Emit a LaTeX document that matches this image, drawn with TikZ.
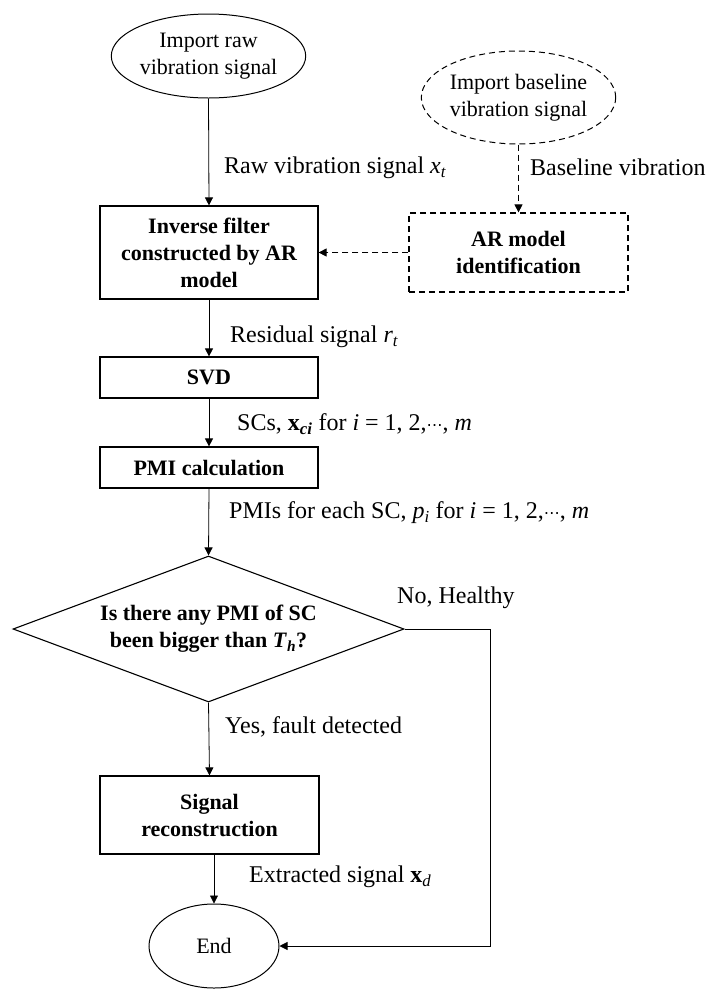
\documentclass[tikz,border=0pt]{standalone}
\usepackage{fontspec}
\setmainfont{Liberation Serif}
\newfontfamily\dotsfont{DejaVu Sans}
\newcommand{\mydots}{{\dotsfont\fontsize{16}{20}\selectfont ⋯}}
\usetikzlibrary{shapes.geometric,arrows.meta}
\begin{document}
\begin{tikzpicture}[x=1pt,y=-1pt,
  every node/.style={inner sep=0pt},
  nodefont/.style={font=\fontsize{22}{27}\selectfont, align=center},
  boxnode/.style={draw, line width=1.2pt, rectangle, nodefont, font=\fontsize{22}{27}\selectfont\bfseries},
  ovalnode/.style={draw, line width=1pt, ellipse, nodefont},
  dashpat/.style={dash pattern=on 6pt off 4pt},
  lbl/.style={anchor=west, font=\fontsize{24}{28}\selectfont},
  conn/.style={line width=0.8pt, -{Triangle[length=8pt,width=8pt]}}
]
\useasboundingbox (0,0) rectangle (707,989);

\node[ovalnode, minimum width=192pt, minimum height=84pt] (start) at (208.5,56) {Import raw\\vibration signal};
\node[ovalnode, dashpat, minimum width=191pt, minimum height=93pt] (base) at (518.5,97.5) {Import baseline\\vibration signal};

\node[boxnode, minimum width=218pt, minimum height=93pt] (inv) at (209,252.5) {Inverse filter\\constructed by AR\\model};
\node[boxnode, dashpat, minimum width=219pt, minimum height=79pt] (ar) at (518.5,252.5) {AR model\\identification};

\node[boxnode, minimum width=218pt, minimum height=41pt] (svd) at (209,377.5) {SVD};
\node[boxnode, minimum width=218pt, minimum height=41pt] (pmi) at (209,467.5) {PMI calculation};

\node[draw, line width=1.1pt, diamond, minimum width=391pt, minimum height=146pt, aspect=2.68, font=\fontsize{22}{27}\selectfont\bfseries, align=center] (dia) at (208.5,629) {Is there any PMI of SC\\been bigger than \textit{T}\textsubscript{\textit{h}}?};

\node[boxnode, minimum width=219pt, minimum height=78pt] (rec) at (209.5,815) {Signal\\reconstruction};

\node[ovalnode, minimum width=130pt, minimum height=84pt] (end) at (214,946) {End};

\coordinate (turn) at (490,629);

\draw[conn] (start.south) -- (inv.north);
\draw[conn, dashpat] (base.south) -- (ar.north);
\draw[conn, dashpat] (ar.west) -- (inv.east);
\draw[conn] (inv.south) -- (svd.north);
\draw[conn] (svd.south) -- (pmi.north);
\draw[conn] (pmi.south) -- (dia.north);
\draw[conn] (dia.south) -- (rec.north);
\draw[conn] (rec.south -| end.north) -- (end.north);
\draw[conn] (dia.east) -- (turn) |- (end.east);

\node[lbl] (l1) at (224,168) {Raw vibration signal \textit{x}\textsubscript{\textit{t}}};
\node[lbl] (l2) at (530,167) {Baseline vibration};
\node[lbl] (l3) at (230,337) {Residual signal \textit{r}\textsubscript{\textit{t}}};
\node[lbl] (l4) at (237,424) {SCs, \textbf{x}\textsubscript{\textbf{\textit{ci}}} for \textit{i} = 1, 2,\mydots, \textit{m}};
\node[lbl] (l5) at (229,513) {PMIs for each SC, \textit{p}\textsubscript{\textit{i}} for \textit{i} = 1, 2,\mydots, \textit{m}};
\node[lbl] (l6) at (397,598) {No, Healthy};
\node[lbl] (l7) at (225,727) {Yes, fault detected};
\node[lbl] (l8) at (249,877) {Extracted signal \textbf{x}\textsubscript{\textit{d}}};
\end{tikzpicture}
\end{document}
